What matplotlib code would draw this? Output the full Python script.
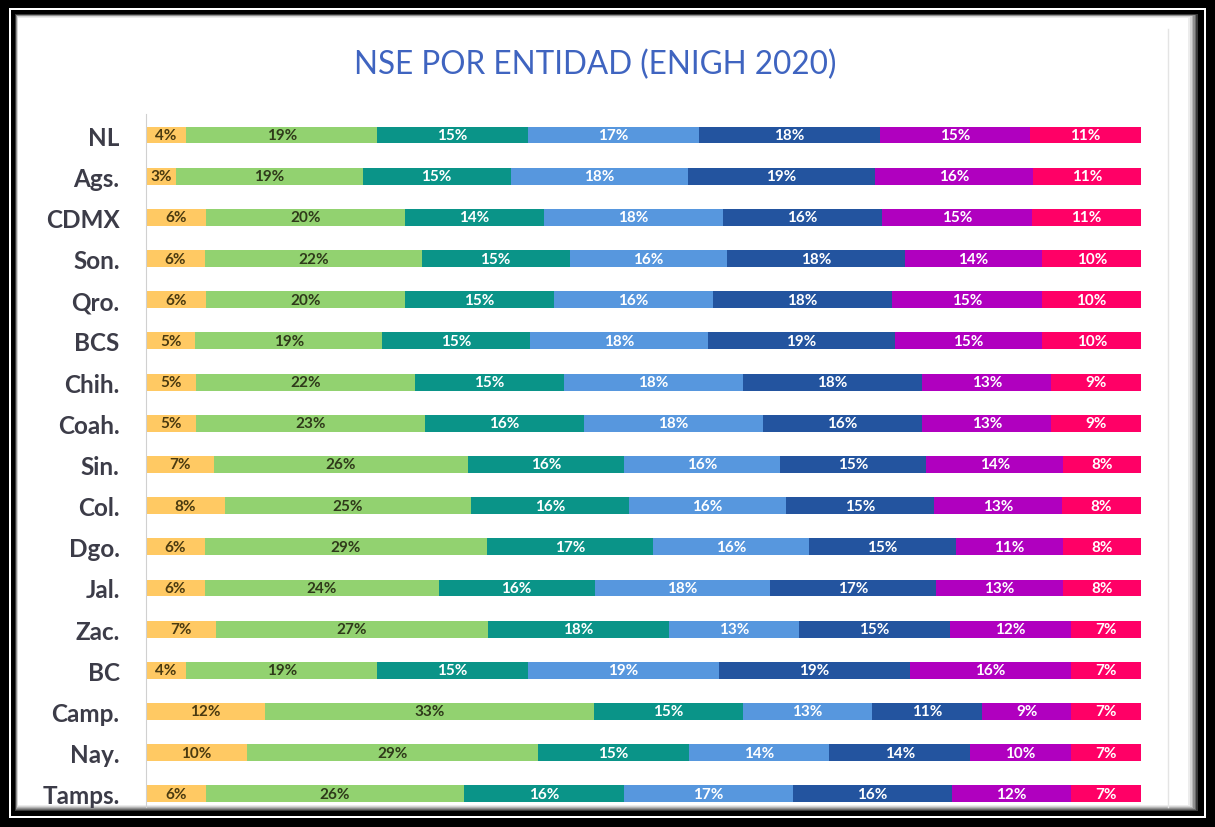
import matplotlib.pyplot as plt
import matplotlib.patches as mpatches
import matplotlib.lines as mlines
import numpy as np

entidades = ['NL', 'Ags.', 'CDMX', 'Son.', 'Qro.', 'BCS', 'Chih.', 'Coah.', 'Sin.',
             'Col.', 'Dgo.', 'Jal.', 'Zac.', 'BC', 'Camp.', 'Nay.', 'Tamps.']

# porcentajes por nivel (de izquierda a derecha)
n1 = [4, 3, 6, 6, 6, 5, 5, 5, 7, 8, 6, 6, 7, 4, 12, 10, 6]
n2 = [19, 19, 20, 22, 20, 19, 22, 23, 26, 25, 29, 24, 27, 19, 33, 29, 26]
n3 = [15, 15, 14, 15, 15, 15, 15, 16, 16, 16, 17, 16, 18, 15, 15, 15, 16]
n4 = [17, 18, 18, 16, 16, 18, 18, 18, 16, 16, 16, 18, 13, 19, 13, 14, 17]
n5 = [18, 19, 16, 18, 18, 19, 18, 16, 15, 15, 15, 17, 15, 19, 11, 14, 16]
n6 = [15, 16, 15, 14, 15, 15, 13, 13, 14, 13, 11, 13, 12, 16, 9, 10, 12]
n7 = [11, 11, 11, 10, 10, 10, 9, 9, 8, 8, 8, 8, 7, 7, 7, 7, 7]

niveles = [n1, n2, n3, n4, n5, n6, n7]
colores = ['#FFC963', '#92D270', '#0A9488', '#5797DE', '#23549F', '#B000BF', '#FF0066']
txt_col = ['#4A3A10', '#2F3A1A', 'white', 'white', 'white', 'white', 'white']

W, H = 1215, 828
fig = plt.figure(figsize=(W / 100, H / 100), dpi=100)
fig.patch.set_facecolor('black')


def rect(x0, y0, x1, y1, color):
    # rectangulo en pixeles (origen arriba-izquierda)
    fig.patches.append(mpatches.Rectangle((x0 / W, 1 - y1 / H), (x1 - x0) / W, (y1 - y0) / H,
                                          transform=fig.transFigure, facecolor=color,
                                          edgecolor='none', zorder=-10))


# marco
rect(9, 9, 1206, 819, 'white')
rect(11, 11, 1204, 817, 'black')
for i, g in enumerate(['#3a3a3a', '#6a6a6a', '#909090', '#b5b5b5', '#d5d5d5', '#ececec']):
    rect(15 + i * 0.5, 15 + i * 0.6, 1198 - i * 1.6, 812 - i * 1.1, g)
rect(18, 19, 1188, 806, 'white')
fig.lines.append(mlines.Line2D([1168 / W, 1168 / W], [1 - 30 / H, 1 - 808 / H],
                               transform=fig.transFigure, color='#e4e4e4', lw=1))

ax = fig.add_axes([146 / W, 1 - 808 / H, (1141 - 146) / W, (808 - 115) / H])
ax.set_facecolor('none')

data = np.array(niveles, dtype=float)
frac = data / data.sum(axis=0)
y = np.arange(len(entidades))
left = np.zeros(len(entidades))
for k in range(len(niveles)):
    ax.barh(y, frac[k], left=left, height=0.41, color=colores[k], edgecolor='none')
    for i in range(len(entidades)):
        ax.text(left[i] + frac[k][i] / 2, y[i], f'{niveles[k][i]}%', ha='center', va='center',
                fontsize=11, fontweight='bold', color=txt_col[k], family='Lato')
    left += frac[k]

ax.set_xlim(0, 1)
ax.set_ylim(16.32, -0.51)
ax.set_yticks(y)
ax.set_yticklabels(entidades, fontsize=17.5, fontweight='bold', color='#3C3C48', family='Lato')
ax.tick_params(axis='y', length=0, pad=19)
ax.set_xticks([])
for s in ['top', 'right', 'bottom']:
    ax.spines[s].set_visible(False)
ax.spines['left'].set_color('#d0d0d0')

fig.text(595 / W, 1 - 65 / H, 'NSE POR ENTIDAD (ENIGH 2020)', ha='center', va='center',
         fontsize=22.7, color='#3F64C0', family='Lato')

fig.savefig('out.png', dpi=100, facecolor=fig.get_facecolor())
